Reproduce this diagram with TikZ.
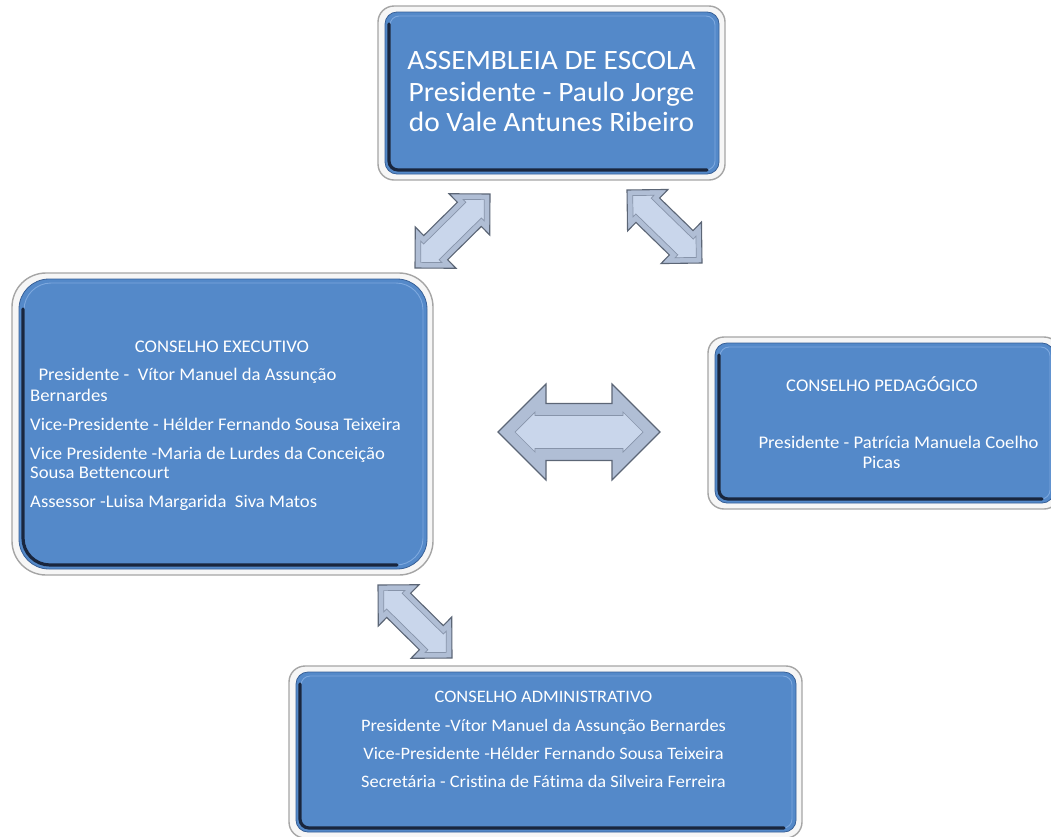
\documentclass[tikz,border=0pt]{standalone}
\usepackage{fontspec}
\setmainfont{Carlito}[FakeStretch=1.05,Ligatures=NoCommon]
\usetikzlibrary{calc,fit}
\definecolor{boxblue}{RGB}{84,137,201}
\definecolor{boxedge}{RGB}{55,95,150}
\definecolor{boxhl}{RGB}{125,168,222}
\definecolor{boxdark}{RGB}{25,38,62}
\definecolor{framefill}{RGB}{246,246,246}
\definecolor{frameedge}{RGB}{165,165,165}
\definecolor{arrout}{RGB}{176,190,213}
\definecolor{arredge}{RGB}{92,102,118}
\definecolor{arrin}{RGB}{201,214,235}
\definecolor{arrinedge}{RGB}{135,148,170}
\tikzset{
  frame/.style={fill=framefill, draw=frameedge, line width=1.4pt},
  bluebox/.style={fill=boxblue, draw=boxedge, line width=0.8pt, inner sep=0pt},
  innerhl/.style={draw=boxhl, line width=0.9pt},
  darkedge/.style={draw=boxdark, line width=3.2pt, line cap=round},
  arrowouter/.style={fill=arrout, draw=arredge, line width=1.1pt, line join=miter},
  arrowinner/.style={fill=arrin, draw=arrinedge, line width=0.7pt},
  txt/.style={text=white, inner sep=0pt},
  big/.style={txt, font=\fontsize{28}{31}\selectfont},
  small/.style={txt, font=\fontsize{17.8}{21}\selectfont},
  smallb/.style={txt, font=\fontsize{17.5}{21}\selectfont},
}
% #1 name, (#2,#3) top-left, (#4,#5) bottom-right of blue panel, #6 radius
\newcommand\panel[6]{%
  \path[frame, rounded corners=#6pt+4pt] (#2-7,#3-6) rectangle (#4+6,#5+6);
  \node[bluebox, rounded corners=#6pt, fit={(#2,#3) (#4,#5)}] (#1) {};
  \path[innerhl, rounded corners=#6pt-3pt] (#2+5,#3+4) rectangle (#4-4,#5-4);
  \path[darkedge, rounded corners=#6pt-3pt] (#2+4,#3+#6) -- (#2+4,#5-4) -- (#4-#6,#5-4);
}
% block double arrow between coordinates #1 and #2; #3 head, #4 shaft half width; #5 style
\newcommand\polyarrow[5]{%
  \path[#5] (#1) -- ($(#1)!#3pt!(#2)!#3pt!90:(#2)$) -- ($(#1)!#3pt!(#2)!#4pt!90:(#2)$)
    -- ($(#2)!#3pt!(#1)!#4pt!-90:(#1)$) -- ($(#2)!#3pt!(#1)!#3pt!-90:(#1)$) -- (#2)
    -- ($(#2)!#3pt!(#1)!#3pt!90:(#1)$) -- ($(#2)!#3pt!(#1)!#4pt!90:(#1)$)
    -- ($(#1)!#3pt!(#2)!#4pt!-90:(#2)$) -- ($(#1)!#3pt!(#2)!#3pt!-90:(#2)$) -- cycle;
}
% #1,#2 tip coordinates; #3 h, #4 s, #5 inset of inner tips, #6 inner h, #7 inner s
\newcommand\blockarrow[7]{%
  \polyarrow{#1}{#2}{#3}{#4}{arrowouter}
  \coordinate (#1-in) at ($(#1)!#5pt!(#2)$);
  \coordinate (#2-in) at ($(#2)!#5pt!(#1)$);
  \polyarrow{#1-in}{#2-in}{#6}{#7}{arrowinner}
}
\begin{document}
\begin{tikzpicture}[x=1pt,y=-1pt]
\useasboundingbox (0,0) rectangle (1051,836);
\clip (0,0) rectangle (1051,836);

% panels
\panel{ae}{385}{12}{719}{174}{12}
\panel{ce}{19}{279}{427}{569}{30}
\panel{cp}{715}{343}{1054}{503}{12}
\panel{ca}{296}{672}{796}{832}{12}

% Assembleia de Escola
\node[big, anchor=base] (ae1) at (551.5,69.3) {ASSEMBLEIA DE ESCOLA};
\node[big, anchor=base] (ae2) at (551.5,101) {Presidente - Paulo Jorge};
\node[big, anchor=base] (ae3) at (551.5,131.7) {do Vale Antunes Ribeiro};

% Conselho Executivo
\node[small, anchor=base] (ce0) at (222,352.7) {CONSELHO EXECUTIVO};
\node[small, anchor=base west] (ce1) at (38.3,380.7) {Presidente -\ \ Vítor Manuel da Assunção};
\node[small, anchor=base west] (ce2) at (30,401.7) {Bernardes};
\node[small, anchor=base west] (ce3) at (30,430) {Vice-Presidente - Hélder Fernando Sousa Teixeira};
\node[small, anchor=base west] (ce4) at (30,459) {Vice Presidente -Maria de Lurdes da Conceição};
\node[small, anchor=base west] (ce5) at (30,478.3) {Sousa Bettencourt};
\node[small, anchor=base west] (ce6) at (30,507.3) {Assessor -Luisa Margarida\ \ Siva Matos};

% Conselho Pedagogico
\node[small, anchor=base] (cp0) at (882,391.7) {CONSELHO PEDAGÓGICO};
\node[small, anchor=base] (cp1) at (898.5,448.3) {Presidente - Patrícia Manuela Coelho};
\node[small, anchor=base] (cp2) at (881.5,468.3) {Picas};

% Conselho Administrativo
\node[smallb, anchor=base] (ca0) at (543.5,702.7) {CONSELHO ADMINISTRATIVO};
\node[smallb, anchor=base] (ca1) at (543.5,731) {Presidente -Vítor Manuel da Assunção Bernardes};
\node[smallb, anchor=base] (ca2) at (543.5,759.3) {Vice-Presidente -Hélder Fernando Sousa Teixeira};
\node[smallb, anchor=base] (ca3) at (543.5,787.3) {Secretária - Cristina de Fátima da Silveira Ferreira};

% block arrows
\coordinate (a1s) at (415,268); \coordinate (a1e) at (490,194);
\coordinate (a2s) at (627,190); \coordinate (a2e) at (702,263);
\coordinate (a3s) at (498,432); \coordinate (a3e) at (660,432);
\coordinate (a4s) at (378,585); \coordinate (a4e) at (452,658);
\blockarrow{a1s}{a1e}{29}{17}{8}{15}{11}
\blockarrow{a2s}{a2e}{29}{17}{8}{15}{11}
\blockarrow{a3s}{a3e}{48}{28.5}{17}{20}{16.5}
\blockarrow{a4s}{a4e}{29}{17}{8}{15}{11}
\end{tikzpicture}
\end{document}
